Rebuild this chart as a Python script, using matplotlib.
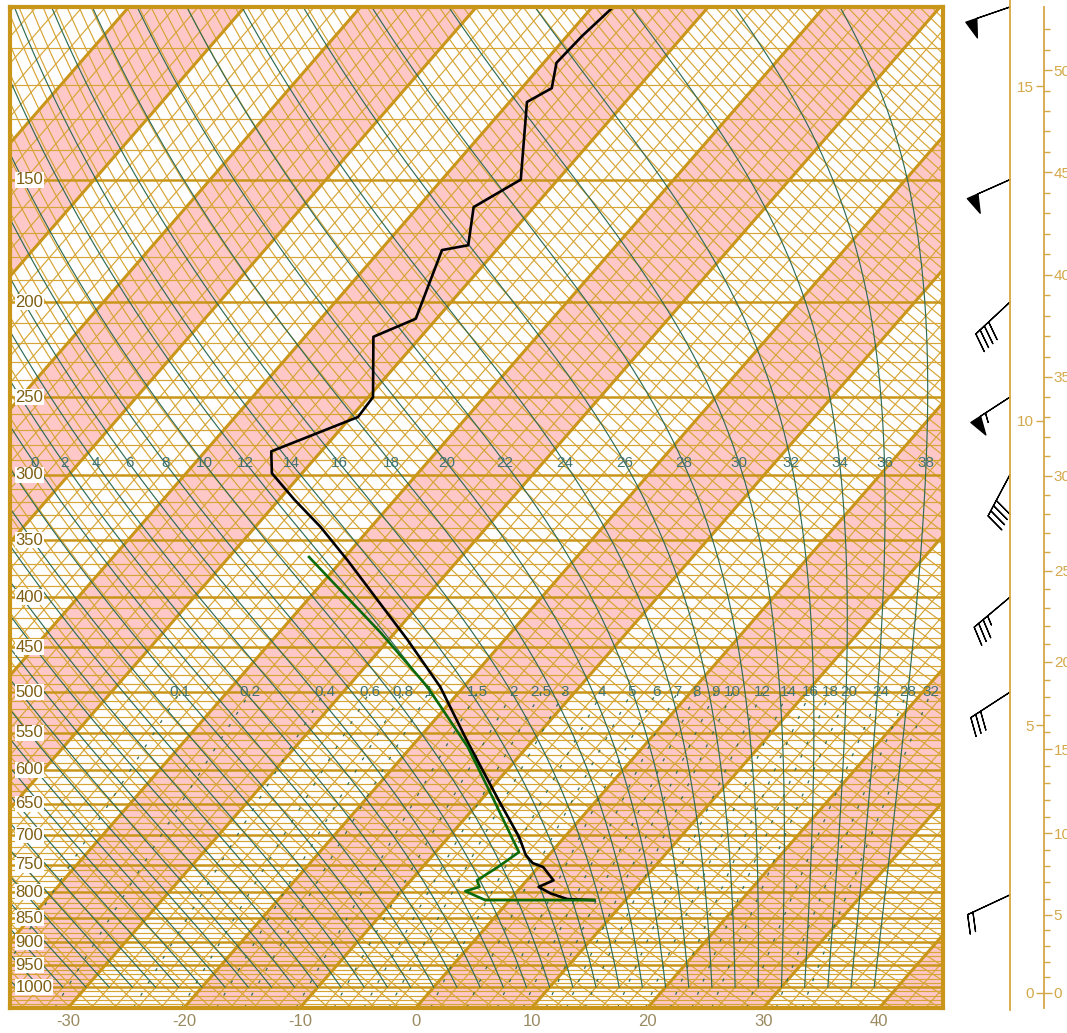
import numpy as np
import matplotlib
matplotlib.use('Agg')
import matplotlib.pyplot as plt
from matplotlib.transforms import Affine2D
from matplotlib.collections import LineCollection
from matplotlib.ticker import NullFormatter, NullLocator

plt.rcParams['font.family'] = ['Liberation Sans', 'DejaVu Sans']

# sounding: pressure (hPa), temperature / dew point (degC)
temp_p = [100, 107, 114, 121, 125, 150, 160, 175, 177, 208, 217, 250, 262, 284, 299,
          318, 339, 367, 442, 494, 560, 644, 703, 733, 747, 754, 778, 790, 802, 813, 815]
temp_t = [-58.2, -58.7, -58.9, -57.4, -58.5, -53.2, -55.2, -52.8, -54.7, -51.8, -54.1,
          -49.6, -49.4, -54.3, -52.6, -48.7, -44.4, -39.5, -28.4, -22.0, -15.7, -8.5,
          -3.9, -2.0, -0.8, 0.4, 2.3, 1.5, 3.0, 4.9, 7.3]
dewp_p = [364, 435, 494, 569, 644, 708, 728, 754, 778, 790, 798, 815, 815]
dewp_t = [-43.1, -31.2, -23.1, -15.1, -8.9, -4.2, -2.8, -3.5, -4.3, -3.6, -4.5, -2.1, 7.3]

# winds
wind_p = [100, 150, 200, 250, 300, 400, 500, 805]
wind_dir = [251, 246, 227, 237, 208, 230, 237, 245]
wind_kt = [50, 50, 40, 55, 40, 35, 30, 20]

# chart furniture
p_labels = list(range(150, 1001, 50))
t_ticks = [-30, -20, -10, 0, 10, 20, 30, 40]
thetaw_vals = list(range(-36, 40, 2))
mixr_vals = [0.1, 0.2, 0.4, 0.6, 0.8, 1, 1.5, 2, 2.5, 3, 4, 5, 6, 7, 8, 9, 10,
             12, 14, 16, 18, 20, 24, 28, 32]
km_ticks = [0, 5, 10, 15]
kft_major = list(range(0, 51, 5))
kft_minor = list(range(0, 53))

P_BOT, P_TOP = 1050., 100.
T_LEFT, T_RIGHT = -35., 45.5
SKEW = 32.0  # degC per e-fold of pressure

GOLD = '#C9961A'
GOLD_THIN = '#D6A535'
PINK = '#FFC8C8'
GREEN_BG = '#2F6B55'
LABEL_GREEN = '#417373'

fig = plt.figure(figsize=(10.67, 10.33), dpi=100)
ax = fig.add_axes([10 / 1067, 25 / 1033, 933 / 1067, 1001 / 1033])
ax.set_yscale('log')
ax.set_ylim(P_BOT, P_TOP)
ax.set_xlim(T_LEFT, T_RIGHT)


def skew_transform(ax, skew):
    bb = ax.bbox
    x0, x1 = ax.get_xlim()
    px_deg = bb.width / (x1 - x0)
    px_ln = bb.height / np.log(P_BOT / P_TOP)
    k = skew * px_deg / px_ln
    return ax.transData + Affine2D().translate(0, -bb.y0).skew(np.arctan(k), 0).translate(0, bb.y0)


tr = skew_transform(ax, SKEW)

# pink bands between 10 degree isotherms
for t0 in range(-140, 60, 20):
    ax.fill([t0, t0 + 10, t0 + 10, t0], [P_BOT, P_BOT, P_TOP, P_TOP],
            color=PINK, lw=0, transform=tr, zorder=0)

# isotherms
thin_iso = [[(t, P_BOT), (t, P_TOP)] for t in range(-140, 60, 2) if t % 10]
thick_iso = [[(t, P_BOT), (t, P_TOP)] for t in range(-140, 60, 10)]
ax.add_collection(LineCollection(thin_iso, colors=GOLD_THIN, lw=0.85, transform=tr, zorder=1))
ax.add_collection(LineCollection(thick_iso, colors=GOLD, lw=2.2, transform=tr, zorder=2))

# isobars
for p in range(110, 1050, 10):
    ax.axhline(p, color=GOLD if p % 50 == 0 else GOLD_THIN,
               lw=1.8 if p % 50 == 0 else 0.85, zorder=2 if p % 50 == 0 else 1)

# dry adiabats
pp = np.geomspace(P_BOT, P_TOP, 60)
dry = []
for th in range(230, 510, 2):
    dry.append(np.column_stack([th * (pp / 1000.) ** 0.2857 - 273.15, pp]))
ax.add_collection(LineCollection(dry, colors=GOLD_THIN, lw=0.85, transform=tr, zorder=1))


# moist adiabats
def dtdlnp(t, p):
    es = 6.112 * np.exp(17.67 * (t - 273.15) / (t - 29.65))
    rs = 0.622 * es / (p - es)
    return (287.04 * t + 2.501e6 * rs) / (1005.7 + 2.501e6 ** 2 * rs * 0.622 / (287.04 * t * t))


lnp = np.linspace(np.log(1000.), np.log(100.), 250)
for tw in thetaw_vals:
    t = np.empty_like(lnp)
    t[0] = tw + 273.15
    for i in range(1, len(lnp)):
        h = lnp[i] - lnp[i - 1]
        k1 = dtdlnp(t[i - 1], np.exp(lnp[i - 1]))
        k2 = dtdlnp(t[i - 1] + h * k1, np.exp(lnp[i]))
        t[i] = t[i - 1] + h * (k1 + k2) / 2
    ax.plot(t - 273.15, np.exp(lnp), color=GREEN_BG, lw=0.85, transform=tr, zorder=3)
    if tw >= -2:
        tl = np.interp(np.log(292.), lnp[::-1], t[::-1]) - 273.15
        ax.text(tl, 292, str(tw), color=LABEL_GREEN, fontsize=11, ha='center', va='center',
                transform=tr, zorder=4, clip_on=True)

# mixing ratio lines
pm = np.geomspace(P_BOT, 500, 30)
for w in mixr_vals:
    e = w * pm / (622. + w)
    a = np.log(e / 6.112)
    td = 243.5 * a / (17.67 - a)
    td_ice = 272.62 * a / (22.46 - a)
    td = np.where(td < 0, td_ice, td)
    ax.plot(td, pm, color=GREEN_BG, lw=0.9, ls=(0, (2.5, 9)), transform=tr, zorder=3)
    ax.text(td[-1], 500, '%g' % w, color=LABEL_GREEN, fontsize=11, ha='center', va='center',
            transform=tr, zorder=4, clip_on=True)

# sounding
ax.plot(temp_t, temp_p, color='black', lw=1.9, transform=tr, zorder=6)
ax.plot(dewp_t, dewp_p, color='#0B6B0B', lw=1.9, transform=tr, zorder=7)

# pressure labels
for p in p_labels:
    ax.text(0.006, p, str(p), transform=ax.get_yaxis_transform(), color='#7E5E12',
            fontsize=12, ha='left', va='center', zorder=8,
            bbox=dict(facecolor='white', edgecolor='none', pad=0.4))

ax.set_xticks(t_ticks)
ax.set_xticklabels([str(t) for t in t_ticks])
ax.tick_params(axis='x', length=0, pad=4, labelsize=12, labelcolor='#9A8A60')
ax.set_yticks([])
ax.yaxis.set_minor_locator(NullLocator())
for s in ax.spines.values():
    s.set_color(GOLD)
    s.set_linewidth(3)
    s.set_zorder(9)

# wind barbs
bax = fig.add_axes([943 / 1067, 25 / 1033, 101 / 1067, 1001 / 1033])
bax.set_yscale('log')
bax.set_ylim(P_BOT, P_TOP)
bax.set_xlim(0, 1)
bax.axis('off')
bx = 0.663
bax.axvline(bx, ymin=-0.002, ymax=1.007, color='#D8A83E', lw=1.3, clip_on=False)
d = np.radians(wind_dir)
u = -np.array(wind_kt) * np.sin(d)
v = -np.array(wind_kt) * np.cos(d)
bax.barbs([bx] * len(wind_p), wind_p, u, v, length=8.2, color='black', lw=0.9,
          flip_barb=True, clip_on=False)


# altitude axis (standard atmosphere)
def std_press(h_m):
    h_m = np.asarray(h_m, dtype=float)
    low = 1013.25 * np.clip(1 - h_m / 44330.8, 1e-6, None) ** 5.2559
    high = 226.32 * np.exp(-(h_m - 11000.) / 6341.6)
    return np.where(h_m <= 11000, low, high)


ALT = '#D4A84A'
aax = fig.add_axes([1044 / 1067, 25 / 1033, 0.0001, 1001 / 1033])
aax.set_yscale('log')
aax.set_ylim(P_BOT, P_TOP)
aax.set_xticks([])
for k in ['top', 'bottom', 'right']:
    aax.spines[k].set_visible(False)
aax.spines['left'].set_color(ALT)
aax.spines['left'].set_linewidth(1.3)
aax.set_yticks(std_press(np.array(km_ticks) * 1000.), [str(k) for k in km_ticks])
aax.yaxis.set_minor_locator(NullLocator())
aax.tick_params(axis='y', colors=ALT, labelcolor=ALT, length=6, width=1, pad=1, labelsize=11)

kax = aax.twinx()
kax.set_yscale('log')
kax.set_ylim(P_BOT, P_TOP)
for k in ['top', 'bottom', 'left', 'right']:
    kax.spines[k].set_visible(False)
kax.set_yticks(std_press(np.array(kft_major) * 304.8), [str(k) for k in kft_major])
kax.set_yticks(std_press(np.array(kft_minor) * 304.8), minor=True)
kax.yaxis.set_minor_formatter(NullFormatter())
kax.tick_params(axis='y', which='major', colors=ALT, labelcolor=ALT, length=6, width=1,
                pad=1, labelsize=11)
kax.tick_params(axis='y', which='minor', colors=ALT, length=4, width=1)

fig.savefig('out.png', dpi=100)
